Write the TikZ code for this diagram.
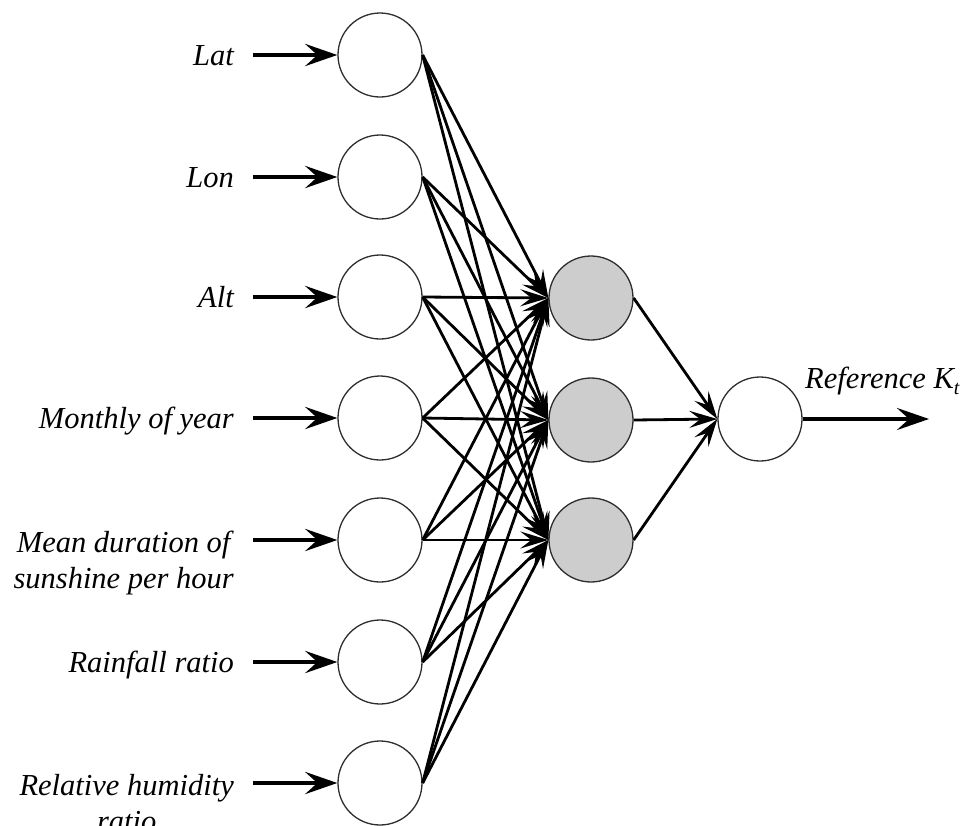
\documentclass[tikz,border=0pt]{standalone}
\usepackage{fontspec}
\setmainfont{Liberation Serif}
\usetikzlibrary{arrows.meta}
\definecolor{hiddengray}{RGB}{205,205,205}
\definecolor{rimgray}{RGB}{45,45,45}
\begin{document}
\begin{tikzpicture}[x=1pt,y=-1pt,
  neuron/.style={circle, draw=rimgray, line width=1.3pt, minimum size=84pt, inner sep=0pt},
  hiddenneuron/.style={neuron, fill=hiddengray},
  inarrow/.style={line width=4.8pt, -{Stealth[length=32pt,width=22pt,inset=12pt]}},
  link/.style={line width=2.8pt, -{Stealth[length=28pt,width=17pt,inset=11pt]}},
  lblfont/.style={font=\fontsize{30.5}{36}\selectfont\itshape},
  lbl/.style={lblfont, align=center, anchor=base east, inner sep=0pt}]
\useasboundingbox (0,0) rectangle (964,825);

% input layer
\foreach \n/\y in {1/55,2/177,3/297,4/418,5/540,6/662,7/783}{
  \node[neuron] (i\n) at (380,\y) {};
  \coordinate (s\n) at (253,\y);
  \draw[inarrow] (s\n) -- (i\n.west);
}

% hidden layer and output
\node[hiddenneuron] (h1) at (591,298) {};
\node[hiddenneuron] (h2) at (591,420) {};
\node[hiddenneuron] (h3) at (591,540) {};
\node[neuron] (o) at (760,419) {};
\coordinate (out) at (929,419);

% input labels (base anchor sits on the last line)
\node[lbl] (l1) at (234,65) {Lat};
\node[lbl] (l2) at (234,187) {Lon};
\node[lbl] (l3) at (234,307) {Alt};
\node[lbl] (l4) at (234,428) {Monthly of year};
\node[lbl] (l5) at (234,588) {Mean duration of\\sunshine per hour};
\node[lbl] (l6) at (234,672) {Rainfall ratio};
\node[lbl] (l7) at (234,831) {Relative humidity\\ratio};

% full connections input -> hidden
\foreach \a in {1,...,7}{
  \foreach \b in {1,2,3}{
    \draw[link] (i\a.east) -- (h\b.west);
  }
}

% hidden -> output
\foreach \b in {1,2,3}{
  \draw[link] (h\b.east) -- (o.west);
}
\draw[inarrow, line width=3.8pt] (o.east) -- (out);
\node[lblfont, anchor=base west, inner sep=0pt] (ol) at (805,388)
  {Reference K\raisebox{-6pt}{\fontsize{20}{20}\selectfont t}};
\end{tikzpicture}
\end{document}
